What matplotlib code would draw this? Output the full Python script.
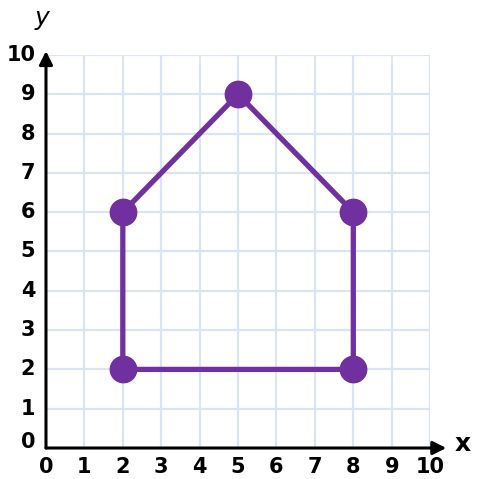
import matplotlib.pyplot as plt

# polygon vertices (house shape)
xs = [2, 2, 5, 8, 8]
ys = [2, 6, 9, 6, 2]
ticks = list(range(0, 11))

purple = '#7030a0'
grid_c = '#dbe4f3'

fig = plt.figure(figsize=(4.79, 4.79), dpi=100)
ax = fig.add_axes([0.096, 0.0647, 0.802, 0.8205])
ax.set_xlim(0, 10)
ax.set_ylim(0, 10)

for t in ticks[1:]:
    ax.plot([t, t], [0, 10], color=grid_c, lw=1.6, zorder=0)
    ax.plot([0, 10], [t, t], color=grid_c, lw=1.6, zorder=0)

ax.plot(xs + [xs[0]], ys + [ys[0]], color=purple, lw=3.8, zorder=3)
ax.plot(xs, ys, 'o', color=purple, markersize=19, zorder=4)

for s in ax.spines.values():
    s.set_visible(False)
ax.set_xticks([])
ax.set_yticks([])

# axes with arrows
ax.annotate('', xy=(10.42, 0), xytext=(0, 0), annotation_clip=False,
            arrowprops=dict(arrowstyle='-|>', color='black', lw=2.2, mutation_scale=20, shrinkA=0, shrinkB=0))
ax.annotate('', xy=(0, 10.1), xytext=(0, 0), annotation_clip=False,
            arrowprops=dict(arrowstyle='-|>', color='black', lw=2.2, mutation_scale=20, shrinkA=0, shrinkB=0))

for t in ticks:
    ax.text(t, -0.22, str(t), ha='center', va='top', fontsize=15, fontweight='bold', clip_on=False)
    ax.text(-0.28, t + (0.15 if t == 0 else 0), str(t), ha='right', va='center', fontsize=15,
            fontweight='bold', clip_on=False)

ax.text(10.85, 0.1, 'x', ha='center', va='center', fontsize=18, fontweight='bold', clip_on=False)
ax.text(-0.1, 10.95, 'y', ha='center', va='center', fontsize=18, style='italic', clip_on=False)

fig.savefig('out.png', dpi=100)
